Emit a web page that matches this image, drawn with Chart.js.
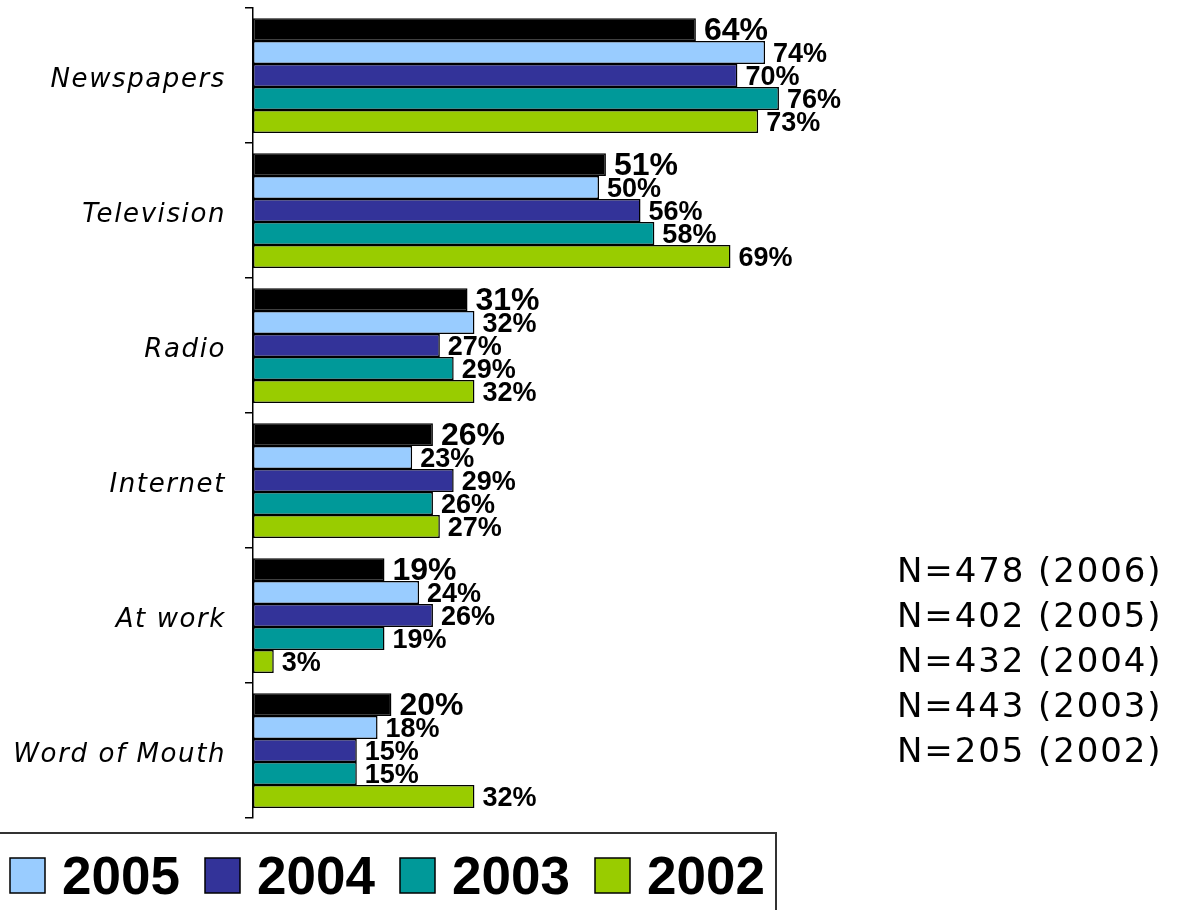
<!DOCTYPE html>
<html>
<head>
<meta charset="utf-8">
<script src="https://cdn.jsdelivr.net/npm/chart.js@4/dist/chart.umd.min.js"></script>
<style>
  html, body { margin: 0; padding: 0; background: #fff; }
  #wrap { position: relative; width: 1179px; height: 910px; overflow: hidden; }
</style>
</head>
<body>
<div id="wrap"><canvas id="c" width="1179" height="910"></canvas></div>
<script>
const categories = ['Newspapers', 'Television', 'Radio', 'Internet', 'At work', 'Word of Mouth'];
const years = ['2006', '2005', '2004', '2003', '2002'];
const values2006 = [64, 51, 31, 26, 19, 20];
const values2005 = [74, 50, 32, 23, 24, 18];
const values2004 = [70, 56, 27, 29, 26, 15];
const values2003 = [76, 58, 29, 26, 19, 15];
const values2002 = [73, 69, 32, 27, 3, 32];
const sampleNotes = ['N=478 (2006)', 'N=402 (2005)', 'N=432 (2004)', 'N=443 (2003)', 'N=205 (2002)'];
const colors = ['#000000', '#99CCFF', '#333399', '#009999', '#99CC00'];

const seriesValues = [values2006, values2005, values2004, values2003, values2002];

const datasets = years.map((y, i) => ({
  label: y,
  data: seriesValues[i],
  backgroundColor: colors[i],
  borderColor: '#000000',
  borderWidth: 1.5,
  borderSkipped: false,
  categoryPercentage: 0.85,
  barPercentage: 1.0
}));

const spacingPlugin = {
  id: 'spacing',
  beforeDraw(chart) { chart.ctx.letterSpacing = '1.6px'; },
  beforeDatasetsDraw(chart) { chart.ctx.letterSpacing = '0px'; }
};

const labelsPlugin = {
  id: 'valueLabels',
  afterDatasetsDraw(chart) {
    const ctx = chart.ctx;
    ctx.save();
    ctx.letterSpacing = '0px';
    ctx.fillStyle = '#000';
    ctx.textAlign = 'left';
    ctx.textBaseline = 'middle';
    chart.data.datasets.forEach((ds, di) => {
      const meta = chart.getDatasetMeta(di);
      ctx.font = (di === 0 ? 'bold 32px' : 'bold 27px') + ' "Liberation Sans", Arial, sans-serif';
      meta.data.forEach((bar, j) => {
        ctx.fillText(ds.data[j] + '%', bar.x + 8, bar.y + 2);
      });
    });
    ctx.restore();
  }
};

const extrasPlugin = {
  id: 'extras',
  afterDraw(chart) {
    const ctx = chart.ctx;
    ctx.save();
    // sample size notes
    ctx.letterSpacing = '1.9px';
    ctx.fillStyle = '#000';
    ctx.font = '34px "DejaVu Sans", Verdana, sans-serif';
    ctx.textAlign = 'left';
    ctx.textBaseline = 'alphabetic';
    sampleNotes.forEach((t, i) => {
      ctx.fillText(t, 897, 582 + i * 45);
    });
    // legend box (partly outside the picture)
    ctx.letterSpacing = '0px';
    ctx.strokeStyle = '#333';
    ctx.lineWidth = 2;
    ctx.beginPath();
    ctx.moveTo(-300, 833);
    ctx.lineTo(776, 833);
    ctx.lineTo(776, 920);
    ctx.stroke();
    ctx.font = 'bold 53px "Liberation Sans", Arial, sans-serif';
    chart.data.datasets.forEach((ds, i) => {
      const x0 = 10 + (i - 1) * 195;
      ctx.fillStyle = ds.backgroundColor;
      ctx.fillRect(x0, 858, 35, 35);
      ctx.strokeStyle = '#000';
      ctx.lineWidth = 1.5;
      ctx.strokeRect(x0, 858, 35, 35);
      ctx.fillStyle = '#000';
      ctx.fillText(ds.label, x0 + 52, 894);
    });
    ctx.restore();
  }
};

new Chart(document.getElementById('c'), {
  type: 'bar',
  data: { labels: categories, datasets },
  plugins: [spacingPlugin, labelsPlugin, extrasPlugin],
  options: {
    indexAxis: 'y',
    responsive: false,
    animation: false,
    devicePixelRatio: 1,
    layout: { padding: { top: 8, right: 234, bottom: 92, left: 0 } },
    plugins: { legend: { display: false }, tooltip: { enabled: false } },
    scales: {
      x: { display: false, min: 0, max: 100 },
      y: {
        afterFit(scale) { scale.width = 253; scale.paddingTop = 0; scale.paddingBottom = 0; },
        grid: { drawOnChartArea: false, offset: true, tickLength: 8, color: '#000', lineWidth: 1.5 },
        border: { color: '#000', width: 1.5 },
        ticks: {
          color: '#000',
          padding: 19,
          labelOffset: 5,
          font: { family: '"DejaVu Sans", Verdana, sans-serif', size: 26, style: 'italic' }
        }
      }
    }
  }
});
</script>
</body>
</html>
